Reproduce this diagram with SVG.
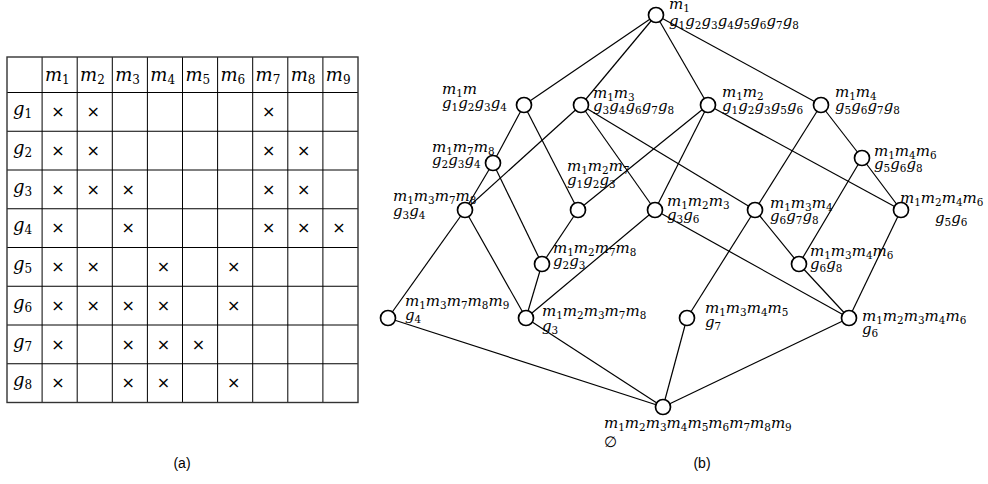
<svg xmlns="http://www.w3.org/2000/svg" width="988" height="484" viewBox="0 0 988 484">
<style>
.bg{fill:#fff}
.grid line{stroke:#000;stroke-width:1}
.frame{fill:none;stroke:#333;stroke-width:1.4}
.x{font-family:"DejaVu Sans",sans-serif;font-size:16px;text-anchor:middle;fill:#000}
.tm{font-family:"DejaVu Serif",serif;font-style:italic;font-size:18px;fill:#000}
.ts{font-size:12px;font-style:normal}
.t{font-family:"DejaVu Serif",serif;font-style:italic;font-size:15px;fill:#000}
.s{font-size:10.4px;font-style:normal}
.edges line{stroke:#000;stroke-width:1.2}
.node circle{fill:#fff;stroke:#000;stroke-width:1.7}
.cap{font-family:"Liberation Sans",Arial,sans-serif;font-size:14px;text-anchor:middle;fill:#000}
</style>
<rect class="bg" x="0" y="0" width="988" height="484"/>

<g id="table">
  <g class="grid">
    <line x1="42.1" y1="57" x2="42.1" y2="402.5"/>
    <line x1="77.2" y1="57" x2="77.2" y2="402.5"/>
    <line x1="112.3" y1="57" x2="112.3" y2="402.5"/>
    <line x1="147.4" y1="57" x2="147.4" y2="402.5"/>
    <line x1="182.5" y1="57" x2="182.5" y2="402.5"/>
    <line x1="217.6" y1="57" x2="217.6" y2="402.5"/>
    <line x1="252.7" y1="57" x2="252.7" y2="402.5"/>
    <line x1="287.8" y1="57" x2="287.8" y2="402.5"/>
    <line x1="322.9" y1="57" x2="322.9" y2="402.5"/>
    <line x1="7" y1="92.5" x2="358" y2="92.5"/>
    <line x1="7" y1="131.25" x2="358" y2="131.25"/>
    <line x1="7" y1="170" x2="358" y2="170"/>
    <line x1="7" y1="208.75" x2="358" y2="208.75"/>
    <line x1="7" y1="247.5" x2="358" y2="247.5"/>
    <line x1="7" y1="286.25" x2="358" y2="286.25"/>
    <line x1="7" y1="325" x2="358" y2="325"/>
    <line x1="7" y1="363.75" x2="358" y2="363.75"/>
  </g>
  <rect class="frame" x="7" y="57" width="351" height="345.5"/>
  <g id="header">
    <text class="tm" x="45" y="81">m<tspan class="ts" dy="3">1</tspan></text>
    <text class="tm" x="80.1" y="81">m<tspan class="ts" dy="3">2</tspan></text>
    <text class="tm" x="115.2" y="81">m<tspan class="ts" dy="3">3</tspan></text>
    <text class="tm" x="150.3" y="81">m<tspan class="ts" dy="3">4</tspan></text>
    <text class="tm" x="185.4" y="81">m<tspan class="ts" dy="3">5</tspan></text>
    <text class="tm" x="220.5" y="81">m<tspan class="ts" dy="3">6</tspan></text>
    <text class="tm" x="255.6" y="81">m<tspan class="ts" dy="3">7</tspan></text>
    <text class="tm" x="290.7" y="81">m<tspan class="ts" dy="3">8</tspan></text>
    <text class="tm" x="325.8" y="81">m<tspan class="ts" dy="3">9</tspan></text>
  </g>
  <g id="rowlabels">
    <text class="tm" x="13" y="115">g<tspan class="ts" dy="3">1</tspan></text>
    <text class="tm" x="13" y="153.7">g<tspan class="ts" dy="3">2</tspan></text>
    <text class="tm" x="13" y="192.5">g<tspan class="ts" dy="3">3</tspan></text>
    <text class="tm" x="13" y="231.2">g<tspan class="ts" dy="3">4</tspan></text>
    <text class="tm" x="13" y="270">g<tspan class="ts" dy="3">5</tspan></text>
    <text class="tm" x="13" y="308.7">g<tspan class="ts" dy="3">6</tspan></text>
    <text class="tm" x="13" y="347.5">g<tspan class="ts" dy="3">7</tspan></text>
    <text class="tm" x="13" y="386.2">g<tspan class="ts" dy="3">8</tspan></text>
  </g>
  <g id="crosses">
    <text class="x" x="58" y="117">×</text><text class="x" x="93.2" y="117">×</text><text class="x" x="268.7" y="117">×</text>
    <text class="x" x="58" y="155.7">×</text><text class="x" x="93.2" y="155.7">×</text><text class="x" x="268.7" y="155.7">×</text><text class="x" x="303.8" y="155.7">×</text>
    <text class="x" x="58" y="194.5">×</text><text class="x" x="93.2" y="194.5">×</text><text class="x" x="128.3" y="194.5">×</text><text class="x" x="268.7" y="194.5">×</text><text class="x" x="303.8" y="194.5">×</text>
    <text class="x" x="58" y="233.2">×</text><text class="x" x="128.3" y="233.2">×</text><text class="x" x="268.7" y="233.2">×</text><text class="x" x="303.8" y="233.2">×</text><text class="x" x="338.9" y="233.2">×</text>
    <text class="x" x="58" y="272">×</text><text class="x" x="93.2" y="272">×</text><text class="x" x="163.4" y="272">×</text><text class="x" x="233.6" y="272">×</text>
    <text class="x" x="58" y="310.7">×</text><text class="x" x="93.2" y="310.7">×</text><text class="x" x="128.3" y="310.7">×</text><text class="x" x="163.4" y="310.7">×</text><text class="x" x="233.6" y="310.7">×</text>
    <text class="x" x="58" y="349.5">×</text><text class="x" x="128.3" y="349.5">×</text><text class="x" x="163.4" y="349.5">×</text><text class="x" x="198.5" y="349.5">×</text>
    <text class="x" x="58" y="388.2">×</text><text class="x" x="128.3" y="388.2">×</text><text class="x" x="163.4" y="388.2">×</text><text class="x" x="233.6" y="388.2">×</text>
  </g>
</g>

<g id="connectors" class="edges">
  <line x1="656" y1="15" x2="524" y2="105"/>
  <line x1="656" y1="15" x2="581" y2="105"/>
  <line x1="656" y1="15" x2="708" y2="105"/>
  <line x1="656" y1="15" x2="821" y2="105"/>
  <line x1="524" y1="105" x2="493" y2="163"/>
  <line x1="524" y1="105" x2="578" y2="210"/>
  <line x1="581" y1="105" x2="465" y2="210"/>
  <line x1="581" y1="105" x2="655" y2="210"/>
  <line x1="581" y1="105" x2="755" y2="210"/>
  <line x1="708" y1="105" x2="578" y2="210"/>
  <line x1="708" y1="105" x2="655" y2="210"/>
  <line x1="708" y1="105" x2="901" y2="210"/>
  <line x1="821" y1="105" x2="862" y2="158"/>
  <line x1="821" y1="105" x2="755" y2="210"/>
  <line x1="493" y1="163" x2="465" y2="210"/>
  <line x1="493" y1="163" x2="542" y2="264"/>
  <line x1="465" y1="210" x2="388" y2="318"/>
  <line x1="465" y1="210" x2="526" y2="318"/>
  <line x1="578" y1="210" x2="542" y2="264"/>
  <line x1="655" y1="210" x2="526" y2="318"/>
  <line x1="655" y1="210" x2="849" y2="318"/>
  <line x1="542" y1="264" x2="526" y2="318"/>
  <line x1="862" y1="158" x2="799" y2="264"/>
  <line x1="862" y1="158" x2="901" y2="210"/>
  <line x1="755" y1="210" x2="799" y2="264"/>
  <line x1="755" y1="210" x2="687" y2="318"/>
  <line x1="901" y1="210" x2="849" y2="318"/>
  <line x1="799" y1="264" x2="849" y2="318"/>
  <line x1="388" y1="318" x2="663" y2="407"/>
  <line x1="526" y1="318" x2="663" y2="407"/>
  <line x1="687" y1="318" x2="663" y2="407"/>
  <line x1="849" y1="318" x2="663" y2="407"/>
</g>

<g id="n-top" class="node"><circle cx="656" cy="15" r="7.5"/>
  <text class="t" x="669" y="9">m<tspan class="s" dy="3">1</tspan></text>
  <text class="t" x="669" y="26">g<tspan class="s" dy="3">1</tspan><tspan dy="-3">g</tspan><tspan class="s" dy="3">2</tspan><tspan dy="-3">g</tspan><tspan class="s" dy="3">3</tspan><tspan dy="-3">g</tspan><tspan class="s" dy="3">4</tspan><tspan dy="-3">g</tspan><tspan class="s" dy="3">5</tspan><tspan dy="-3">g</tspan><tspan class="s" dy="3">6</tspan><tspan dy="-3">g</tspan><tspan class="s" dy="3">7</tspan><tspan dy="-3">g</tspan><tspan class="s" dy="3">8</tspan></text>
</g>
<g id="n-m1m" class="node"><circle cx="524" cy="105" r="7.5"/>
  <text class="t" x="442" y="94">m<tspan class="s" dy="3">1</tspan><tspan dy="-3">m</tspan></text>
  <text class="t" x="442" y="108">g<tspan class="s" dy="3">1</tspan><tspan dy="-3">g</tspan><tspan class="s" dy="3">2</tspan><tspan dy="-3">g</tspan><tspan class="s" dy="3">3</tspan><tspan dy="-3">g</tspan><tspan class="s" dy="3">4</tspan></text>
</g>
<g id="n-m1m3" class="node"><circle cx="581" cy="105" r="7.5"/>
  <text class="t" x="593" y="98">m<tspan class="s" dy="3">1</tspan><tspan dy="-3">m</tspan><tspan class="s" dy="3">3</tspan></text>
  <text class="t" x="593" y="111">g<tspan class="s" dy="3">3</tspan><tspan dy="-3">g</tspan><tspan class="s" dy="3">4</tspan><tspan dy="-3">g</tspan><tspan class="s" dy="3">6</tspan><tspan dy="-3">g</tspan><tspan class="s" dy="3">7</tspan><tspan dy="-3">g</tspan><tspan class="s" dy="3">8</tspan></text>
</g>
<g id="n-m1m2" class="node"><circle cx="708" cy="105" r="7.5"/>
  <text class="t" x="722" y="97">m<tspan class="s" dy="3">1</tspan><tspan dy="-3">m</tspan><tspan class="s" dy="3">2</tspan></text>
  <text class="t" x="722" y="111">g<tspan class="s" dy="3">1</tspan><tspan dy="-3">g</tspan><tspan class="s" dy="3">2</tspan><tspan dy="-3">g</tspan><tspan class="s" dy="3">3</tspan><tspan dy="-3">g</tspan><tspan class="s" dy="3">5</tspan><tspan dy="-3">g</tspan><tspan class="s" dy="3">6</tspan></text>
</g>
<g id="n-m1m4" class="node"><circle cx="821" cy="105" r="7.5"/>
  <text class="t" x="835" y="97">m<tspan class="s" dy="3">1</tspan><tspan dy="-3">m</tspan><tspan class="s" dy="3">4</tspan></text>
  <text class="t" x="835" y="111">g<tspan class="s" dy="3">5</tspan><tspan dy="-3">g</tspan><tspan class="s" dy="3">6</tspan><tspan dy="-3">g</tspan><tspan class="s" dy="3">7</tspan><tspan dy="-3">g</tspan><tspan class="s" dy="3">8</tspan></text>
</g>
<g id="n-m1m7m8" class="node"><circle cx="493" cy="163" r="7.5"/>
  <text class="t" x="432" y="152">m<tspan class="s" dy="3">1</tspan><tspan dy="-3">m</tspan><tspan class="s" dy="3">7</tspan><tspan dy="-3">m</tspan><tspan class="s" dy="3">8</tspan></text>
  <text class="t" x="432" y="165">g<tspan class="s" dy="3">2</tspan><tspan dy="-3">g</tspan><tspan class="s" dy="3">3</tspan><tspan dy="-3">g</tspan><tspan class="s" dy="3">4</tspan></text>
</g>
<g id="n-m1m3m7m8" class="node"><circle cx="465" cy="210" r="7.5"/>
  <text class="t" x="393" y="201">m<tspan class="s" dy="3">1</tspan><tspan dy="-3">m</tspan><tspan class="s" dy="3">3</tspan><tspan dy="-3">m</tspan><tspan class="s" dy="3">7</tspan><tspan dy="-3">m</tspan><tspan class="s" dy="3">8</tspan></text>
  <text class="t" x="393" y="216">g<tspan class="s" dy="3">3</tspan><tspan dy="-3">g</tspan><tspan class="s" dy="3">4</tspan></text>
</g>
<g id="n-m1m2m7" class="node"><circle cx="578" cy="210" r="7.5"/>
  <text class="t" x="567" y="171">m<tspan class="s" dy="3">1</tspan><tspan dy="-3">m</tspan><tspan class="s" dy="3">2</tspan><tspan dy="-3">m</tspan><tspan class="s" dy="3">7</tspan></text>
  <text class="t" x="567" y="185">g<tspan class="s" dy="3">1</tspan><tspan dy="-3">g</tspan><tspan class="s" dy="3">2</tspan><tspan dy="-3">g</tspan><tspan class="s" dy="3">3</tspan></text>
</g>
<g id="n-m1m2m3" class="node"><circle cx="655" cy="210" r="7.5"/>
  <text class="t" x="667" y="206">m<tspan class="s" dy="3">1</tspan><tspan dy="-3">m</tspan><tspan class="s" dy="3">2</tspan><tspan dy="-3">m</tspan><tspan class="s" dy="3">3</tspan></text>
  <text class="t" x="667" y="220">g<tspan class="s" dy="3">3</tspan><tspan dy="-3">g</tspan><tspan class="s" dy="3">6</tspan></text>
</g>
<g id="n-m1m2m7m8" class="node"><circle cx="542" cy="264" r="7.5"/>
  <text class="t" x="553" y="253">m<tspan class="s" dy="3">1</tspan><tspan dy="-3">m</tspan><tspan class="s" dy="3">2</tspan><tspan dy="-3">m</tspan><tspan class="s" dy="3">7</tspan><tspan dy="-3">m</tspan><tspan class="s" dy="3">8</tspan></text>
  <text class="t" x="553" y="266">g<tspan class="s" dy="3">2</tspan><tspan dy="-3">g</tspan><tspan class="s" dy="3">3</tspan></text>
</g>
<g id="n-m1m4m6" class="node"><circle cx="862" cy="158" r="7.5"/>
  <text class="t" x="874" y="156">m<tspan class="s" dy="3">1</tspan><tspan dy="-3">m</tspan><tspan class="s" dy="3">4</tspan><tspan dy="-3">m</tspan><tspan class="s" dy="3">6</tspan></text>
  <text class="t" x="874" y="169">g<tspan class="s" dy="3">5</tspan><tspan dy="-3">g</tspan><tspan class="s" dy="3">6</tspan><tspan dy="-3">g</tspan><tspan class="s" dy="3">8</tspan></text>
</g>
<g id="n-m1m3m4" class="node"><circle cx="755" cy="210" r="7.5"/>
  <text class="t" x="770" y="208">m<tspan class="s" dy="3">1</tspan><tspan dy="-3">m</tspan><tspan class="s" dy="3">3</tspan><tspan dy="-3">m</tspan><tspan class="s" dy="3">4</tspan></text>
  <text class="t" x="770" y="221">g<tspan class="s" dy="3">6</tspan><tspan dy="-3">g</tspan><tspan class="s" dy="3">7</tspan><tspan dy="-3">g</tspan><tspan class="s" dy="3">8</tspan></text>
</g>
<g id="n-m1m2m4m6" class="node"><circle cx="901" cy="210" r="7.5"/>
  <text class="t" x="900" y="203">m<tspan class="s" dy="3">1</tspan><tspan dy="-3">m</tspan><tspan class="s" dy="3">2</tspan><tspan dy="-3">m</tspan><tspan class="s" dy="3">4</tspan><tspan dy="-3">m</tspan><tspan class="s" dy="3">6</tspan></text>
  <text class="t" x="935" y="223">g<tspan class="s" dy="3">5</tspan><tspan dy="-3">g</tspan><tspan class="s" dy="3">6</tspan></text>
</g>
<g id="n-m1m3m4m6" class="node"><circle cx="799" cy="264" r="7.5"/>
  <text class="t" x="810" y="256">m<tspan class="s" dy="3">1</tspan><tspan dy="-3">m</tspan><tspan class="s" dy="3">3</tspan><tspan dy="-3">m</tspan><tspan class="s" dy="3">4</tspan><tspan dy="-3">m</tspan><tspan class="s" dy="3">6</tspan></text>
  <text class="t" x="810" y="269">g<tspan class="s" dy="3">6</tspan><tspan dy="-3">g</tspan><tspan class="s" dy="3">8</tspan></text>
</g>
<g id="n-m1m3m7m8m9" class="node"><circle cx="388" cy="318" r="7.5"/>
  <text class="t" x="405" y="306">m<tspan class="s" dy="3">1</tspan><tspan dy="-3">m</tspan><tspan class="s" dy="3">3</tspan><tspan dy="-3">m</tspan><tspan class="s" dy="3">7</tspan><tspan dy="-3">m</tspan><tspan class="s" dy="3">8</tspan><tspan dy="-3">m</tspan><tspan class="s" dy="3">9</tspan></text>
  <text class="t" x="405" y="320">g<tspan class="s" dy="3">4</tspan></text>
</g>
<g id="n-m1m2m3m7m8" class="node"><circle cx="526" cy="318" r="7.5"/>
  <text class="t" x="542" y="316">m<tspan class="s" dy="3">1</tspan><tspan dy="-3">m</tspan><tspan class="s" dy="3">2</tspan><tspan dy="-3">m</tspan><tspan class="s" dy="3">3</tspan><tspan dy="-3">m</tspan><tspan class="s" dy="3">7</tspan><tspan dy="-3">m</tspan><tspan class="s" dy="3">8</tspan></text>
  <text class="t" x="542" y="331">g<tspan class="s" dy="3">3</tspan></text>
</g>
<g id="n-m1m3m4m5" class="node"><circle cx="687" cy="318" r="7.5"/>
  <text class="t" x="705" y="313">m<tspan class="s" dy="3">1</tspan><tspan dy="-3">m</tspan><tspan class="s" dy="3">3</tspan><tspan dy="-3">m</tspan><tspan class="s" dy="3">4</tspan><tspan dy="-3">m</tspan><tspan class="s" dy="3">5</tspan></text>
  <text class="t" x="705" y="327">g<tspan class="s" dy="3">7</tspan></text>
</g>
<g id="n-m1m2m3m4m6" class="node"><circle cx="849" cy="318" r="7.5"/>
  <text class="t" x="862" y="321">m<tspan class="s" dy="3">1</tspan><tspan dy="-3">m</tspan><tspan class="s" dy="3">2</tspan><tspan dy="-3">m</tspan><tspan class="s" dy="3">3</tspan><tspan dy="-3">m</tspan><tspan class="s" dy="3">4</tspan><tspan dy="-3">m</tspan><tspan class="s" dy="3">6</tspan></text>
  <text class="t" x="862" y="334">g<tspan class="s" dy="3">6</tspan></text>
</g>
<g id="n-bottom" class="node"><circle cx="663" cy="407" r="7.5"/>
  <text class="t" x="604" y="428">m<tspan class="s" dy="3">1</tspan><tspan dy="-3">m</tspan><tspan class="s" dy="3">2</tspan><tspan dy="-3">m</tspan><tspan class="s" dy="3">3</tspan><tspan dy="-3">m</tspan><tspan class="s" dy="3">4</tspan><tspan dy="-3">m</tspan><tspan class="s" dy="3">5</tspan><tspan dy="-3">m</tspan><tspan class="s" dy="3">6</tspan><tspan dy="-3">m</tspan><tspan class="s" dy="3">7</tspan><tspan dy="-3">m</tspan><tspan class="s" dy="3">8</tspan><tspan dy="-3">m</tspan><tspan class="s" dy="3">9</tspan></text>
  <text class="t" x="604" y="447" style="font-style:normal">∅</text>
</g>

<text class="cap" x="182" y="468">(a)</text>
<text class="cap" x="702" y="468">(b)</text>
</svg>
